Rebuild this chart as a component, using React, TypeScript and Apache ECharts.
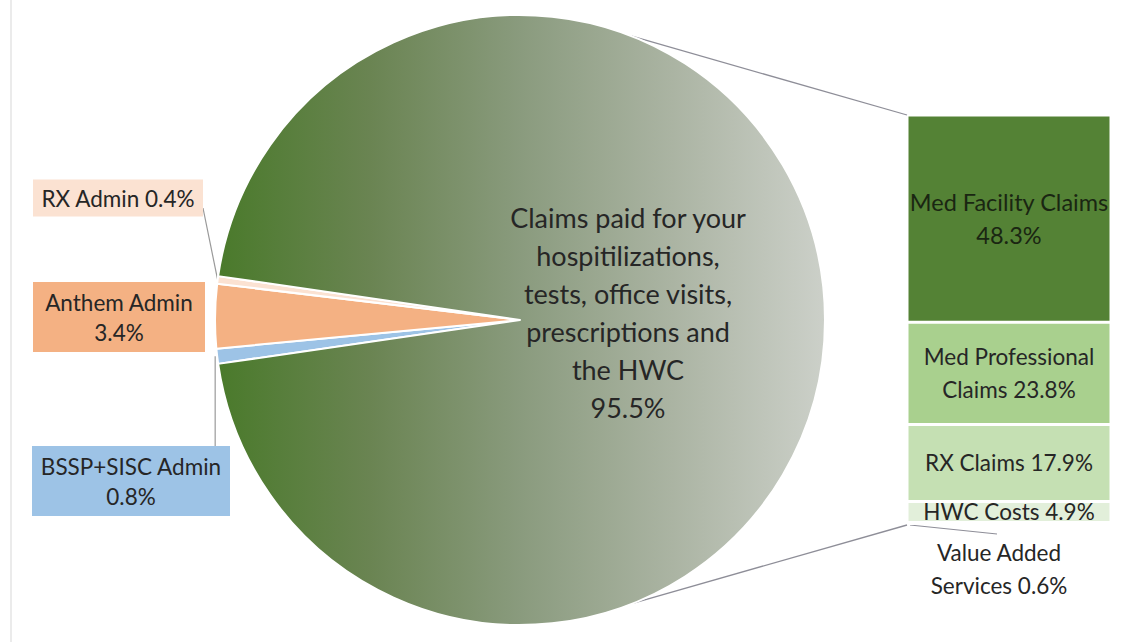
import React, { useEffect, useRef } from 'react';
import * as echarts from 'echarts';

// ---- data ----
const pieNames = [
  'BSSP+SISC Admin',
  'Anthem Admin',
  'RX Admin',
  'Claims paid for your\nhospitilizations,\ntests, office visits,\nprescriptions and\nthe HWC',
];
const pieValues = [0.8, 3.4, 0.4, 95.5];
const pieLabelSep = ['\n', '\n', ' ', '\n'];

const barNames = ['Med Facility Claims', 'Med Professional\nClaims', 'RX Claims', 'HWC Costs', 'Value Added\nServices'];
const barValues = [48.3, 23.8, 17.9, 4.9, 0.6];
const barLabelSep = ['\n', ' ', ' ', ' ', ' '];

// ---- styles / layout ----
const FONT = 'Lato';
const CX = 520;
const CY = 320;
const R = 305;
const BAR_LEFT = 907;
const BAR_W = 204;
const BAR_TOP = 115;
const BAR_H = 410;

const pieColors = [
  '#9dc3e6',
  '#f4b183',
  '#fbe2d2',
  {
    type: 'linear', x: 0, y: 0, x2: 1, y2: 0,
    colorStops: [
      { offset: 0, color: '#4a7a2b' },
      { offset: 0.25, color: '#6a8452' },
      { offset: 0.5, color: '#8a9b7e' },
      { offset: 0.75, color: '#abb4a3' },
      { offset: 1, color: '#ccd0c9' },
    ],
  },
];
const barColors = ['#548235', '#a9d08e', '#c5e0b3', '#e2efda', '#eef4ea'];

// label boxes for the small slices: [centerX, centerY, width, height]
const pieBoxes: ([number, number, number, number] | null)[] = [
  [131, 481, 198, 70],
  [119, 317, 172, 70],
  [118, 198, 170, 37],
  null,
];

export default function App() {
  const ref = useRef<HTMLDivElement>(null);
  useEffect(() => {
    if (!ref.current) return;
    const chart = echarts.init(ref.current, undefined, { renderer: 'svg' });
    const pieTotal = pieValues.reduce((a, b) => a + b, 0);
    const smallSum = pieValues.slice(0, 3).reduce((a, b) => a + b, 0);
    const startAngle = 180 + (smallSum / pieTotal) * 180;
    const midAngles: number[] = [];
    let acc = startAngle;
    pieValues.forEach((v) => {
      const span = (v / pieTotal) * 360;
      midAngles.push(acc - span / 2);
      acc -= span;
    });
    const edgePt = (deg: number): [number, number] => [
      CX + R * Math.cos((deg * Math.PI) / 180),
      CY - R * Math.sin((deg * Math.PI) / 180),
    ];

    const barTotal = barValues.reduce((a, b) => a + b, 0);
    const topPt = edgePt(68.5);
    const botPt = edgePt(-68);

    const pieData = pieValues.map((v, i) => {
      const box = pieBoxes[i];
      const isBig = !box;
      const lines = isBig ? 6 : pieLabelSep[i] === '\n' ? 2 : 1;
      const lh = isBig ? 38 : box && lines === 2 ? 30 : 26;
      const padV = box ? (box[3] - lines * lh) / 2 : 0;
      return {
        name: pieNames[i],
        value: v,
        itemStyle: { color: pieColors[i] as any },
        label: isBig
          ? { fontSize: 27, lineHeight: 38, color: '#262626', align: 'center' }
          : {
              fontSize: 22.5,
              lineHeight: lh,
              color: '#262626',
              backgroundColor: i === 0 ? '#9dc3e6' : i === 1 ? '#f4b183' : '#fbe2d2',
              width: box![2],
              padding: [padV, 0, padV, 0],
              align: 'center',
            },
        labelLine: { show: i === 0 || i === 2, lineStyle: { color: '#9a9a9a', width: 1.2 } },
      };
    });

    chart.setOption({
      animation: false,
      backgroundColor: '#ffffff',
      textStyle: { fontFamily: FONT },
      grid: { left: BAR_LEFT, top: BAR_TOP, width: BAR_W, height: BAR_H },
      xAxis: { type: 'category', data: ['Claims'], show: false },
      yAxis: { type: 'value', min: 0, max: barTotal, inverse: true, show: false },
      series: [
        {
          type: 'pie',
          center: [CX, CY],
          radius: R,
          startAngle,
          clockwise: true,
          avoidLabelOverlap: false,
          itemStyle: { borderColor: '#ffffff', borderWidth: 2 },
          label: {
            show: true,
            fontFamily: FONT,
            formatter: (p: any) => p.name + pieLabelSep[p.dataIndex] + p.value + '%',
          },
          labelLayout: (p: any) => {
            const i = p.dataIndex;
            const box = pieBoxes[i];
            if (!box) {
              return { x: 628, y: 312, align: 'center', verticalAlign: 'middle' };
            }
            const res: any = { x: box[0], y: box[1], align: 'center', verticalAlign: 'middle' };
            const s = edgePt(midAngles[i]);
            if (i === 2) {
              const e: [number, number] = [box[0] + box[2] / 2, box[1] + 10];
              res.labelLinePoints = [s, [(s[0] + e[0]) / 2, (s[1] + e[1]) / 2], e];
            } else if (i === 0) {
              const e: [number, number] = [s[0] - 2, box[1] - box[3] / 2];
              res.labelLinePoints = [[s[0] - 2, s[1]], [s[0] - 2, (s[1] + e[1]) / 2], e];
            }
            return res;
          },
          data: pieData,
        },
        ...barValues.map((v, i) => ({
          type: 'bar',
          name: barNames[i],
          stack: 'claims',
          barWidth: '100%',
          data: [v],
          itemStyle: { color: barColors[i], borderColor: '#ffffff', borderWidth: 1.5 },
          label: {
            show: true,
            position: i === 4 ? 'bottom' : 'inside',
            distance: 11,
            offset: i === 4 ? [-10, 0] : [0, 0],
            fontFamily: FONT,
            fontSize: i === 0 ? 23.5 : 22.5,
            lineHeight: 33,
            color: i === 0 ? '#1a2612' : '#262626',
            align: 'center',
            formatter: (p: any) => barNames[i] + barLabelSep[i] + p.value + '%',
          },
        })),
      ],
      graphic: [
        { type: 'rect', shape: { x: 10, y: 0, width: 2, height: 642 }, style: { fill: '#ebebeb' }, silent: true },
        {
          type: 'line',
          shape: { x1: topPt[0], y1: topPt[1], x2: BAR_LEFT, y2: BAR_TOP },
          style: { stroke: '#8e8e98', lineWidth: 1.3 },
        },
        {
          type: 'line',
          shape: { x1: botPt[0], y1: botPt[1], x2: BAR_LEFT, y2: BAR_TOP + BAR_H },
          style: { stroke: '#8e8e98', lineWidth: 1.3 },
        },
        {
          type: 'line',
          shape: { x1: BAR_LEFT + 3, y1: BAR_TOP + BAR_H, x2: BAR_LEFT + 90, y2: BAR_TOP + BAR_H + 9 },
          style: { stroke: '#8e8e98', lineWidth: 1.2 },
        },
      ],
    });
    return () => chart.dispose();
  }, []);
  return (
    <div
      ref={ref}
      style={{ position: 'fixed', left: 0, top: 0, width: 1128, height: 642, background: '#fff' }}
    />
  );
}
